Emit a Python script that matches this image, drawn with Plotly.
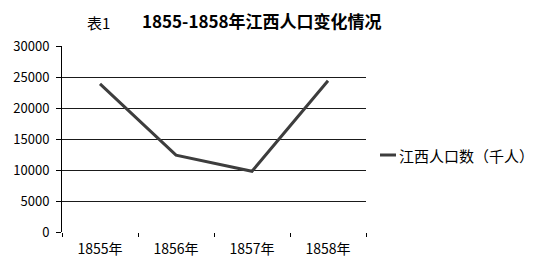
import plotly.graph_objects as go

years = ["1855年", "1856年", "1857年", "1858年"]
population = [23900, 12400, 9800, 24400]
series_name = "江西人口数（千人）"
y_ticks = [0, 5000, 10000, 15000, 20000, 25000, 30000]

FONT = "Noto Sans CJK SC"

fig = go.Figure()
fig.add_trace(go.Scatter(
    x=years, y=population, mode="lines", name=series_name,
    line=dict(color="#3d3d3d", width=3), showlegend=False,
))

fig.update_layout(
    width=546, height=269,
    margin=dict(l=62, r=180, t=46, b=37),
    paper_bgcolor="white", plot_bgcolor="white",
    font=dict(family=FONT, size=13, color="black"),
    xaxis=dict(
        type="category", range=[-0.5, 3.5], tickson="boundaries",
        ticks="outside", ticklen=4, tickcolor="black", tickwidth=1,
        showline=False, showgrid=False, zeroline=False,
        tickfont=dict(family=FONT, size=14, color="black"),
        ticklabelstandoff=7,
    ),
    yaxis=dict(
        range=[0, 30000], tickvals=y_ticks, ticktext=[str(v) for v in y_ticks],
        ticks="outside", ticklen=5, tickcolor="black", tickwidth=1,
        showline=True, linecolor="black", linewidth=1,
        showgrid=True, gridcolor="#1a1a1a", gridwidth=1, zeroline=False,
        tickfont=dict(family=FONT, size=13, color="black"),
        ticklabelstandoff=4,
    ),
)

fig.add_annotation(text="表1", xref="paper", yref="paper",
                   x=(98 - 62) / 304, y=1 + (46 - 22) / 186, xanchor="center", yanchor="middle",
                   showarrow=False, font=dict(family=FONT, size=15, color="black"))
fig.add_annotation(text="<b>1855-1858年江西人口变化情况</b>", xref="paper", yref="paper",
                   x=(262 - 62) / 304, y=1 + (46 - 20) / 186, xanchor="center", yanchor="middle",
                   showarrow=False, font=dict(family=FONT, size=17, color="black"))

# legend
fig.add_shape(type="line", xref="paper", yref="paper",
              x0=(380 - 62) / 304, x1=(396 - 62) / 304,
              y0=(232 - 155) / 186, y1=(232 - 155) / 186,
              line=dict(color="#3d3d3d", width=3))
fig.add_annotation(text=series_name, xref="paper", yref="paper",
                   x=(397 - 62) / 304, y=(232 - 155) / 186, xanchor="left", yanchor="middle",
                   showarrow=False, font=dict(family=FONT, size=15, color="black"))

fig.write_html("out.html")
